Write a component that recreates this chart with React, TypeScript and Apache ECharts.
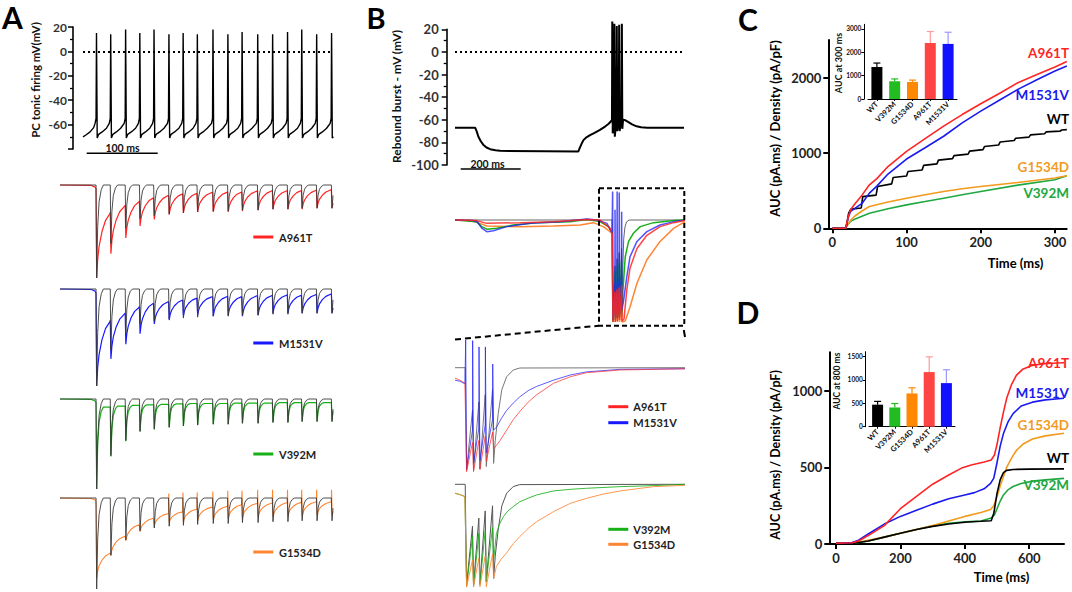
import React, { useEffect, useRef } from "react";
import * as echarts from "echarts";

const FONT = "Lato, 'Liberation Sans', Arial, sans-serif";

// ---------------- Panel A : PC tonic firing (mV) ----------------
const spikeTimesA = [19, 39, 60, 80, 100, 121, 141, 161, 183, 204, 224, 246, 267, 288, 308, 329, 350];
const spikePeaksA = [15, 14, 18, 15, 18, 14, 15, 14, 18, 14, 16, 14, 14, 16, 18, 14, 15];
const tonicStart = [[0, -70], [4, -68.5], [10, -66], [15, -62.5]];
const tonicAfter = [[1, -71], [3, -68], [8, -66], [14, -63]];
const tonicBefore = [[-2, -59], [-0.6, -55]];
const tonicEnd = [[351, -71], [352.5, -70]];

// ---------------- Panel A : currents evoked by the AP train (normalised) ----------------
const wtPeaksA = [-100, -63, -46, -36, -33, -31, -30, -29, -28, -28, -27, -27, -26, -26, -25, -25, -25];
const redPeaksA = [-100, -74, -57, -44, -37, -32, -30, -29, -29, -29, -28, -27, -26, -26, -26, -25, -25];
const redRecA = [-29, -22, -17, -13, -11, -9, -8.5, -8, -7.5, -7, -6.5, -6, -6, -5.5, -5.5, -5, -5];
const bluePeaksA = [-100, -72, -57, -46, -36, -32, -28, -27, -28, -27, -28, -27, -25, -25, -25, -25, -25];
const blueRecA = [-32, -25, -18, -14, -13, -11, -9, -8, -7.5, -7.5, -7, -6.5, -6, -6, -5.5, -5, -5];
const greenPeaksA = [-100, -64, -47, -36, -34, -32, -30, -29, -28, -28, -27, -27, -26, -26, -25, -25, -25];
const greenRecA = [-9, -8, -7, -6.5, -6, -5.5, -5, -5, -5, -4.5, -4.5, -4.5, -4, -4, -4, -4, -4];
const orangePeaksA = [-88, -63, -47, -37, -31, -27, -26, -25, -24, -23, -22, -21, -21, -20, -20, -19, -19];
const orangeRecA = [-60, -42, -29, -22, -17, -15, -12, -10, -9, -7, -6, -5.5, -5, -4.5, -4, -4, -4];
const orangeArtA = [0, 0, 0, 0, 0, 5, 6, 6, 7, 8, 8, 9, 9, 9, 9, 9, 9];
const wtDecay = [[0.6, 1], [2, 0.45], [4, 0.18], [7, 0.05], [10, 0]];
const slowDecay = [[0.6, 1], [2, 0.72], [4, 0.52], [8, 0.3], [13, 0.13], [19.5, 0.02]];
const mutStartA = [[-32, 0], [12, -0.5], [17, -2], [18.6, -4]];
const T_END_A = 352;

// ---------------- Panel B : rebound burst (mV) ----------------
const reboundV = [
  [0, -67], [67, -67], [72, -70], [78, -75], [86, -79], [94, -82], [105, -84.5], [117, -86], [135, -87], [150, -87.5],
  [300, -87.8], [411, -88], [414, -86], [418, -83.5], [423, -80.5], [428, -78], [438, -75.5], [450, -73.5], [465, -71.5],
  [483, -69], [500, -66], [512, -63.5], [519, -61.5], [523, -60],
  [524, 27], [525.5, -72], [529.5, -60], [531, 25], [532.5, -75], [537.5, -60], [539, 23], [540.5, -70], [545.5, -60],
  [547, 24], [548.5, -70], [554.5, -60], [556, 25], [557.5, -68], [560, -60],
  [568, -60.5], [578, -62], [590, -64], [605, -65.8], [620, -66.7], [640, -67], [763, -67],
];

// ---------------- Panel B : currents, burst overlay (normalised) ----------------
const overSpikes = [525, 533, 540, 547, 555];
const blackOverStart = [[0, 0], [523, 0]];
const blackOverTroughs = [-98, -97, -96, -95, -94];
const blackOverPres = [-45, -38, -32, -28];
const blackOverRec = [[559, -45], [562, -18], [566, -7], [571, -2], [580, 0], [766, 0]];
const blueOverStart = [[0, 0], [60, -0.5], [75, -2], [89, -8], [106, -11.5], [128, -10.5], [172, -6.5], [250, -3.3], [350, -1.6], [439, 1], [472, 0], [506, -3.3], [523, -13]];
const blueOverUps = [28, 10, 28, 27, 8];
const blueOverTroughs = [-98, -95, -96, -92, -88];
const blueOverPres = [-60, -58, -55, -52];
const blueOverRec = [[561, -80], [572, -56], [583, -36], [606, -21], [639, -11.4], [683, -4.9], [728, -1.6], [766, 0]];
const redOverStart = [[0, 0], [72, -0.6], [106, -3.3], [217, -2.6], [328, -1.6], [439, 0.6], [483, 0], [517, -8.2], [524, -14]];
const redOverTroughs = [-100, -100, -99, -98, -99];
const redOverPres = [-70, -68, -66, -64];
const redOverRec = [[563, -97], [572, -69], [583, -47], [606, -28], [639, -15], [683, -6.5], [728, -2.6], [766, -0.6]];
const greenOverStart = [[0, 0], [72, -1.6], [89, -6.5], [106, -9], [139, -8], [194, -5], [272, -2.6], [383, -1.6], [439, 0.6], [483, -1.6], [511, -6.5], [523, -12]];
const greenOverTroughs = [-100, -98, -96, -95, -91];
const greenOverPres = [-50, -45, -42, -40];
const greenOverRec = [[559, -70], [567, -36], [578, -21], [594, -13], [617, -6.5], [661, -2.6], [728, -0.6], [766, 0]];
const orangeOverStart = [[0, 0], [50, -0.6], [83, -3.3], [106, -5.9], [217, -6.5], [328, -5.9], [417, -4.9], [461, -2.6], [494, -6.5], [523, -13]];
const orangeOverTroughs = [-100, -100, -100, -100, -100];
const orangeOverPres = [-80, -78, -76, -75];
const orangeOverRec = [[567, -99], [583, -85], [606, -62], [639, -39], [683, -21], [728, -8.2], [766, -1.6]];

// ---------------- Panel B : zoomed bursts (normalised) ----------------
const zoomSpikes = [17.8, 29.4, 40, 50.6, 62.8];
const blackZoomStart = [[0, 0], [17, 0]];
const blackZoomTroughs = [-98, -98, -97, -95, -92];
const blackZoomPres = [-41, -33, -26, -21];
const blackZoomRec = [[67, -70], [72, -44], [78, -21], [86, -8.7], [97, -2.2], [108, -0.3], [383, 0]];
const blueZoomStart = [[0, -12], [8, -13], [16.5, -15.5]];
const blueZoomUps = [26.6, 26, 20, 20, 3.5];
const blueZoomTroughs = [-98, -92, -89, -82, -60];
const blueZoomPres = [-60, -58, -55, -50];
const blueZoomRec = [[69.4, -57], [77, -49], [86, -41], [97, -34], [108, -28], [122, -22], [136, -18], [164, -12], [192, -7], [219, -4], [275, -1.6], [330, -1.3], [383, -1]];
const redZoomStart = [[0, -10], [8, -12], [16.5, -15]];
const redZoomTroughs = [-100, -100, -98, -90, -78];
const redZoomPres = [-72, -70, -66, -62];
const redZoomRec = [[70, -74], [75, -70], [86, -60], [97, -50], [108, -42], [122, -33], [136, -26], [164, -15], [192, -8.7], [219, -4.8], [275, -2.2], [383, -1]];
const greenZoomStart = [[0, -8.8], [8, -10], [16.5, -12]];
const greenZoomTroughs = [-100, -100, -98, -95, -74];
const greenZoomPres = [-51, -48, -45, -42];
const greenZoomRec = [[69, -48], [74, -39], [80.5, -31.6], [88, -26], [97, -21.8], [108, -17], [122, -13.5], [136, -10.4], [164, -6.5], [192, -4.9], [219, -3.9], [275, -2.3], [330, -1.3], [383, 0]];
const orangeZoomStart = [[0, -8.8], [8, -10], [16.5, -12]];
const orangeZoomTroughs = [-100, -100, -100, -100, -92];
const orangeZoomPres = [-74, -72, -70, -68];
const orangeZoomRec = [[69, -80], [77, -73], [86, -67], [97, -58], [108, -51], [122, -43], [136, -36.5], [164, -26.7], [192, -18.6], [219, -13.7], [247, -9.5], [275, -6.5], [330, -2.3], [383, -1]];

// ---------------- Panel C : AUC (pA.ms)/density ----------------
const cRed = [[0, 0], [18, 0], [20, 90], [22, 170], [25, 250], [30, 320], [40, 440], [50, 578], [60, 660], [75, 820], [100, 1022], [125, 1190], [150, 1356], [175, 1510], [200, 1653], [225, 1790], [250, 1933], [275, 2040], [300, 2142], [316, 2215]];
const cBlue = [[0, 0], [18, 0], [20, 80], [22, 160], [25, 230], [30, 262], [40, 330], [50, 467], [60, 560], [75, 720], [100, 920], [125, 1070], [150, 1222], [175, 1400], [200, 1556], [225, 1700], [250, 1844], [275, 1970], [300, 2089], [316, 2156]];
const cWT = [[0, 0], [18, 0], [19, 30], [22, 200], [25, 255], [39, 270], [41, 420], [59, 440], [61, 555], [80, 590], [82, 675], [100, 695], [102, 755], [121, 775], [123, 835], [141, 855], [143, 905], [162, 925], [164, 965], [183, 985], [185, 1025], [203, 1045], [205, 1085], [224, 1105], [226, 1145], [245, 1165], [247, 1195], [265, 1210], [267, 1240], [286, 1255], [288, 1280], [307, 1290], [309, 1305], [316, 1310]];
const cOrange = [[0, 0], [18, 0], [20, 40], [25, 110], [30, 160], [40, 230], [50, 289], [75, 350], [100, 400], [125, 445], [150, 489], [175, 525], [200, 556], [250, 609], [300, 667], [316, 698]];
const cGreen = [[0, 0], [18, 0], [20, 40], [25, 95], [30, 120], [40, 160], [50, 200], [75, 260], [100, 311], [125, 355], [150, 400], [175, 445], [200, 489], [250, 573], [300, 644], [316, 698]];
const insetCats = ["WT", "V392M", "G1534D", "A961T", "M1531V"];
const insetCBars = [1370, 760, 730, 2400, 2360];
const insetCErr = [1540, 860, 810, 2890, 2860];

// ---------------- Panel D : AUC (pA.ms)/density ----------------
const dRed = [[0, 5], [50, 8], [70, 20], [100, 55], [150, 120], [200, 230], [250, 310], [300, 390], [350, 450], [390, 495], [420, 515], [460, 535], [482, 548], [492, 580], [500, 650], [510, 760], [520, 860], [530, 950], [545, 1040], [560, 1100], [580, 1140], [610, 1165], [650, 1177], [708, 1182]];
const dBlue = [[0, 5], [50, 10], [70, 25], [100, 65], [150, 130], [200, 180], [250, 220], [300, 260], [350, 295], [400, 320], [430, 335], [460, 360], [480, 395], [490, 430], [500, 530], [510, 640], [520, 720], [535, 800], [550, 850], [575, 900], [610, 925], [650, 940], [708, 950]];
const dOrange = [[0, 5], [60, 8], [100, 25], [150, 45], [200, 70], [250, 95], [300, 120], [350, 150], [400, 180], [450, 205], [480, 225], [490, 250], [500, 310], [510, 380], [520, 440], [530, 500], [545, 560], [560, 610], [580, 650], [610, 685], [650, 705], [708, 722]];
const dWT = [[0, 5], [60, 6], [100, 20], [150, 45], [200, 70], [250, 95], [300, 115], [350, 130], [400, 142], [450, 148], [482, 152], [490, 200], [500, 330], [510, 420], [520, 465], [530, 480], [550, 486], [600, 488], [708, 490]];
const dGreen = [[0, 5], [60, 6], [100, 20], [150, 45], [200, 70], [250, 95], [300, 118], [350, 135], [400, 145], [450, 150], [482, 170], [492, 190], [500, 230], [510, 280], [520, 320], [535, 355], [550, 375], [575, 395], [610, 410], [650, 418], [708, 428]];
const insetDBars = [470, 410, 710, 1165, 930];
const insetDErr = [540, 495, 830, 1490, 1215];

// colours
const RED = "#ff2424";
const BLUE = "#1818ff";
const GREEN = "#17b017";
const ORANGE = "#ff8533";
const C_RED = "#ff2424";
const C_BLUE = "#1a1aee";
const C_ORANGE = "#f29a1c";
const C_GREEN = "#20a840";
const barColors = ["#000000", "#22bb22", "#ff8800", "#ff4444", "#1111ff"];
const errColors = ["#000000", "#22bb22", "#ff8800", "#ff9a9a", "#9a9aff"];

// ---------------- builders ----------------
function buildTonic() {
  const pts: number[][] = tonicStart.map((p) => [...p]);
  spikeTimesA.forEach((ts, i) => {
    tonicBefore.forEach(([dt, v]) => pts.push([ts + dt, v]));
    pts.push([ts, spikePeaksA[i]]);
    const next = spikeTimesA[i + 1];
    if (next !== undefined) tonicAfter.forEach(([dt, v]) => { if (ts + dt < next - 2) pts.push([ts + dt, v]); });
  });
  tonicEnd.forEach((p) => pts.push([...p]));
  return pts;
}

function buildWT(peaks: number[]) {
  const pts: number[][] = [[-32, 0]];
  spikeTimesA.forEach((tp, i) => {
    pts.push([tp - 0.3, 0]);
    const next = spikeTimesA[i + 1] ?? T_END_A + 20;
    wtDecay.forEach(([dt, f]) => {
      const t = tp + dt;
      if (t < next - 0.3 && t <= T_END_A) pts.push([t, peaks[i] * f]);
    });
  });
  return pts;
}

function buildMut(peaks: number[], rec: number[], decay: number[][], art?: number[]) {
  const pts: number[][] = mutStartA.map((p) => [...p]);
  let level = pts[pts.length - 1][1];
  spikeTimesA.forEach((tp, i) => {
    const next = spikeTimesA[i + 1] ?? T_END_A + 20;
    pts.push([tp - 0.3, level]);
    if (art && art[i] > 0) pts.push([tp, art[i]]);
    decay.forEach(([dt, f]) => {
      const t = tp + dt;
      if (t < next - 0.3 && t <= T_END_A) pts.push([t, rec[i] + (peaks[i] - rec[i]) * f]);
    });
    level = rec[i];
  });
  return pts;
}

function buildBurst(start: number[][], times: number[], troughs: number[], pres: number[], rec: number[][], dt: number, ups?: number[]) {
  const pts: number[][] = start.map((p) => [...p]);
  times.forEach((ts, i) => {
    if (ups) pts.push([ts, ups[i]]);
    pts.push([ts + dt, troughs[i]]);
    if (i < times.length - 1) pts.push([times[i + 1] - 0.3, pres[i]]);
  });
  rec.forEach((p) => pts.push([...p]));
  return pts;
}

// ---------------- axis helpers ----------------
const hiddenAxis = (gridIndex: number, min: number, max: number) => ({
  type: "value", gridIndex, min, max, show: false, splitLine: { show: false },
});

const labelStyle = (size: number) => ({ fontSize: size, fontWeight: "bold", fontFamily: FONT, color: "#222" });
const plain = (v: number) => String(v);

function voltageY(gridIndex: number, min: number, max: number, offset: number, size: number, margin: number, hideMin: boolean) {
  return {
    type: "value", gridIndex, min, max, interval: 20, offset,
    axisLine: { show: true, onZero: false, lineStyle: { color: "#000", width: 1.6 } },
    axisTick: { show: true, length: 5, lineStyle: { color: "#000", width: 1.5 } },
    minorTick: { show: true, splitNumber: 2, length: 3, lineStyle: { color: "#000", width: 1.3 } },
    axisLabel: { ...labelStyle(size), color: "#333", margin, formatter: (v: number) => (hideMin && v === min ? "" : String(v)) },
    splitLine: { show: false }, minorSplitLine: { show: false },
  };
}

function mainX(gridIndex: number, min: number, max: number, ticks: number[]) {
  return {
    type: "value", gridIndex, min, max,
    axisLine: { show: true, onZero: false, lineStyle: { color: "#000", width: 2 } },
    axisTick: { show: true, length: 5, customValues: ticks, lineStyle: { color: "#000", width: 2 } },
    axisLabel: { ...labelStyle(13), margin: 7, customValues: ticks, formatter: plain },
    splitLine: { show: false },
  };
}

function mainY(gridIndex: number, max: number, ticks: number[]) {
  return {
    type: "value", gridIndex, min: 0, max,
    axisLine: { show: true, onZero: false, lineStyle: { color: "#000", width: 2 } },
    axisTick: { show: true, length: 5, customValues: ticks, lineStyle: { color: "#000", width: 2 } },
    axisLabel: { ...labelStyle(13), margin: 7, customValues: ticks, formatter: plain },
    splitLine: { show: false },
  };
}

function insetX(gridIndex: number) {
  return {
    type: "category", gridIndex, data: insetCats,
    axisLine: { show: true, onZero: false, lineStyle: { color: "#000", width: 1 } },
    axisTick: { show: true, alignWithLabel: true, length: 2, lineStyle: { color: "#000" } },
    axisLabel: { ...labelStyle(7.5), color: "#111", rotate: 45, margin: 4, interval: 0 },
    splitLine: { show: false },
  };
}

function insetY(gridIndex: number, max: number, ticks: number[], offset: number) {
  return {
    type: "value", gridIndex, min: 0, max, offset,
    axisLine: { show: true, onZero: false, lineStyle: { color: "#000", width: 1 } },
    axisTick: { show: true, length: 3, customValues: ticks, lineStyle: { color: "#000" } },
    axisLabel: { ...labelStyle(6.5), color: "#111", margin: 3, customValues: ticks, formatter: plain },
    splitLine: { show: false },
  };
}

const line = (xi: number, data: number[][], color: string, width: number, extra: any = {}) => ({
  type: "line", xAxisIndex: xi, yAxisIndex: xi, data, showSymbol: false, symbol: "none",
  clip: false, silent: true, lineStyle: { color, width, ...(extra.lineStyle || {}) },
  emphasis: { disabled: true }, ...extra.rest,
});

function barSeries(xi: number, vals: number[]) {
  return {
    type: "bar", xAxisIndex: xi, yAxisIndex: xi, barWidth: 11, silent: true,
    data: vals.map((v, i) => ({ value: v, itemStyle: { color: barColors[i] } })),
  };
}

function errSeries(xi: number, vals: number[], errs: number[]) {
  return {
    type: "custom", xAxisIndex: xi, yAxisIndex: xi, silent: true, z: 1,
    encode: { x: 0, y: 1 },
    data: vals.map((v, i) => [i, v, errs[i]]),
    renderItem: (params: any, api: any) => {
      const x = api.value(0);
      const p0 = api.coord([x, api.value(1)]);
      const p1 = api.coord([x, api.value(2)]);
      const c = errColors[params.dataIndex];
      return {
        type: "group",
        children: [
          { type: "line", shape: { x1: p0[0], y1: p0[1], x2: p1[0], y2: p1[1] }, style: { stroke: c, lineWidth: 1.2 } },
          { type: "line", shape: { x1: p1[0] - 3.5, y1: p1[1], x2: p1[0] + 3.5, y2: p1[1] }, style: { stroke: c, lineWidth: 1.2 } },
        ],
      };
    },
  };
}

// ---------------- graphic helpers ----------------
const txt = (x: number, y: number, text: string, size: number, o: any = {}) => ({
  type: "text", x, y, rotation: o.rot || 0, z: 100, silent: true,
  style: { text, fontSize: size, fontWeight: "bold", fontFamily: FONT, fill: o.color || "#000", align: o.align || "left", verticalAlign: "middle" },
});
const seg = (x1: number, y1: number, x2: number, y2: number, color: string, w: number, dash?: number[]) => ({
  type: "line", z: 100, silent: true, shape: { x1, y1, x2, y2 },
  style: { stroke: color, lineWidth: w, lineDash: dash || null },
});

function buildOption() {
  const grids = [
    { left: 83, top: 27, width: 250, height: 122 },
    { left: 60, top: 185, width: 273, height: 93 },
    { left: 60, top: 289, width: 273, height: 97 },
    { left: 60, top: 399, width: 273, height: 90 },
    { left: 60, top: 498, width: 273, height: 91 },
    { left: 455, top: 29.3, width: 229, height: 135.7 },
    { left: 455, top: 220, width: 230, height: 102 },
    { left: 455, top: 367.7, width: 230, height: 104 },
    { left: 455, top: 484.3, width: 230, height: 102.4 },
    { left: 828.3, top: 40, width: 238.4, height: 188.3 },
    { left: 868, top: 24.3, width: 89, height: 74.7 },
    { left: 829.3, top: 352.3, width: 234.7, height: 191.7 },
    { left: 869, top: 351.7, width: 86, height: 75 },
  ];

  const xAxis = [
    hiddenAxis(0, 0, 352),
    hiddenAxis(1, -32, 352), hiddenAxis(2, -32, 352), hiddenAxis(3, -32, 352), hiddenAxis(4, -32, 352),
    hiddenAxis(5, 0, 763),
    hiddenAxis(6, 0, 766),
    hiddenAxis(7, 0, 383), hiddenAxis(8, 0, 383),
    mainX(9, -5.4, 315.8, [0, 100, 200, 300]),
    insetX(10),
    mainX(11, -20.8, 708, [0, 200, 400, 600]),
    insetX(12),
  ];
  const yAxis = [
    voltageY(0, -80, 20, 10, 12, 6, true),
    hiddenAxis(1, -100, 0), hiddenAxis(2, -100, 0), hiddenAxis(3, -100, 0), hiddenAxis(4, -100, 0),
    voltageY(5, -100, 20, 8.3, 13, 8, false),
    hiddenAxis(6, -100, 0),
    hiddenAxis(7, -100, 0), hiddenAxis(8, -100, 0),
    mainY(9, 2500, [0, 1000, 2000]),
    insetY(10, 3200, [0, 1000, 2000, 3000], 3.7),
    mainY(11, 1250, [0, 500, 1000]),
    insetY(12, 1600, [0, 500, 1000, 1500], 3.3),
  ];

  const zeroLine = {
    markLine: {
      silent: true, symbol: ["none", "none"], label: { show: false },
      lineStyle: { color: "#000", type: [2, 3], width: 1.8 }, data: [{ yAxis: 0 }],
    },
  };

  const wtA = buildWT(wtPeaksA);
  const gray = "#3a3a3a";
  const series: any[] = [
    line(0, buildTonic(), "#000", 1.4, { rest: zeroLine }),
    line(1, buildMut(redPeaksA, redRecA, slowDecay), RED, 1.2),
    line(1, wtA, gray, 0.9),
    line(2, buildMut(bluePeaksA, blueRecA, slowDecay), BLUE, 1.2),
    line(2, wtA, gray, 0.9),
    line(3, buildMut(greenPeaksA, greenRecA, wtDecay), GREEN, 1.2),
    line(3, wtA, gray, 0.9),
    line(4, buildMut(orangePeaksA, orangeRecA, slowDecay, orangeArtA), ORANGE, 1.1),
    line(4, wtA, gray, 0.9),

    line(5, reboundV, "#000", 2, { rest: zeroLine }),

    line(6, buildBurst(blackOverStart, overSpikes, blackOverTroughs, blackOverPres, blackOverRec, 1), "#666", 1),
    line(6, buildBurst(orangeOverStart, overSpikes, orangeOverTroughs, orangeOverPres, orangeOverRec, 1), ORANGE, 1.5),
    line(6, buildBurst(greenOverStart, overSpikes, greenOverTroughs, greenOverPres, greenOverRec, 1), GREEN, 1.5),
    line(6, buildBurst(blueOverStart, overSpikes, blueOverTroughs, blueOverPres, blueOverRec, 1, blueOverUps), BLUE, 1.5, { lineStyle: { opacity: 0.75 } }),
    line(6, buildBurst(redOverStart, overSpikes, redOverTroughs, redOverPres, redOverRec, 1), RED, 1.5, { lineStyle: { opacity: 0.85 } }),

    line(7, buildBurst(blackZoomStart, zoomSpikes, blackZoomTroughs, blackZoomPres, blackZoomRec, 1.5), "#777", 1),
    line(7, buildBurst(blueZoomStart, zoomSpikes, blueZoomTroughs, blueZoomPres, blueZoomRec, 1.5, blueZoomUps), BLUE, 1, { lineStyle: { opacity: 0.7 } }),
    line(7, buildBurst(redZoomStart, zoomSpikes, redZoomTroughs, redZoomPres, redZoomRec, 1.5), RED, 1, { lineStyle: { opacity: 0.7 } }),

    line(8, buildBurst(blackZoomStart, zoomSpikes, blackZoomTroughs, blackZoomPres, blackZoomRec, 1.5), "#555", 1),
    line(8, buildBurst(greenZoomStart, zoomSpikes, greenZoomTroughs, greenZoomPres, greenZoomRec, 1.5), GREEN, 1, { lineStyle: { opacity: 0.85 } }),
    line(8, buildBurst(orangeZoomStart, zoomSpikes, orangeZoomTroughs, orangeZoomPres, orangeZoomRec, 1.5), ORANGE, 1, { lineStyle: { opacity: 0.85 } }),

    line(9, cGreen, C_GREEN, 1.6),
    line(9, cOrange, C_ORANGE, 1.6),
    line(9, cWT, "#000", 1.6),
    line(9, cBlue, C_BLUE, 1.6),
    line(9, cRed, C_RED, 1.6),
    errSeries(10, insetCBars, insetCErr),
    barSeries(10, insetCBars),

    line(11, dGreen, C_GREEN, 1.6),
    line(11, dOrange, C_ORANGE, 1.6),
    line(11, dWT, "#000", 1.6),
    line(11, dBlue, C_BLUE, 1.6),
    line(11, dRed, C_RED, 1.6),
    errSeries(12, insetDBars, insetDErr),
    barSeries(12, insetDBars),
  ];

  const R = Math.PI / 2;
  const graphic: any[] = [
    txt(12.5, 17, "A", 30, { align: "center" }),
    txt(376, 17, "B", 29, { align: "center" }),
    txt(748, 19, "C", 30, { align: "center" }),
    txt(748, 312, "D", 30, { align: "center" }),

    txt(35, 80, "PC tonic firing mV(mV)", 11.5, { rot: R, align: "center", color: "#111" }),
    txt(396.7, 96.5, "Rebound burst - mV (mV)", 12, { rot: R, align: "center", color: "#111" }),
    txt(775, 128.5, "AUC (pA.ms) / Density (pA/pF)", 13, { rot: R, align: "center" }),
    txt(775, 455, "AUC (pA.ms) / Density (pA/pF)", 12.5, { rot: R, align: "center" }),
    txt(838.3, 63, "AUC at 300 ms", 9, { rot: R, align: "center", color: "#111" }),
    txt(836.7, 381, "AUC at 800 ms", 8.5, { rot: R, align: "center", color: "#111" }),
    txt(1015.5, 263, "Time (ms)", 13, { align: "center" }),
    txt(1001.5, 577, "Time (ms)", 13, { align: "center" }),

    seg(86.7, 153.3, 157.7, 153.3, "#000", 1.5),
    txt(122.5, 147.5, "100 ms", 10.5, { align: "center", color: "#111" }),
    seg(460.7, 169, 520.7, 169, "#000", 1.5),
    txt(487.5, 163.5, "200 ms", 10.5, { align: "center", color: "#111" }),

    { type: "rect", z: 100, silent: true, shape: { x: 599, y: 188.3, width: 85.3, height: 137.4 }, style: { fill: "none", stroke: "#000", lineWidth: 2, lineDash: [5, 3] } },
    seg(455, 339.5, 599, 325.7, "#000", 2, [6, 4]),
    seg(683.8, 330, 685, 337, "#000", 2),

    seg(253.3, 237, 273.3, 237, RED, 3), txt(279, 237, "A961T", 11, { color: "#222" }),
    seg(253.3, 343, 273.3, 343, BLUE, 3), txt(279, 343, "M1531V", 11, { color: "#222" }),
    seg(253.3, 454, 273.3, 454, GREEN, 3), txt(279, 454, "V392M", 11, { color: "#222" }),
    seg(253.3, 552, 273.3, 552, ORANGE, 3), txt(279, 552, "G1534D", 11, { color: "#222" }),

    seg(608.3, 406.7, 628.3, 406.7, RED, 3), txt(633.3, 406.7, "A961T", 11, { color: "#222" }),
    seg(608.3, 422.7, 628.3, 422.7, BLUE, 3), txt(633.3, 422.7, "M1531V", 11, { color: "#222" }),
    seg(608.3, 529.3, 628.3, 529.3, GREEN, 3), txt(633.3, 529.3, "V392M", 11, { color: "#222" }),
    seg(608.3, 544.3, 628.3, 544.3, ORANGE, 3), txt(633.3, 544.3, "G1534D", 11, { color: "#222" }),

    txt(1069, 53, "A961T", 13.5, { align: "right", color: C_RED }),
    txt(1069, 95, "M1531V", 13.5, { align: "right", color: C_BLUE }),
    txt(1069, 119, "WT", 13.5, { align: "right", color: "#000" }),
    txt(1069, 166.7, "G1534D", 13.5, { align: "right", color: C_ORANGE }),
    txt(1069, 192.7, "V392M", 13.5, { align: "right", color: C_GREEN }),

    txt(1069, 362.7, "A961T", 13.5, { align: "right", color: C_RED }),
    txt(1069, 392.7, "M1531V", 13.5, { align: "right", color: C_BLUE }),
    txt(1069, 425, "G1534D", 13.5, { align: "right", color: C_ORANGE }),
    txt(1069, 457.7, "WT", 13.5, { align: "right", color: "#000" }),
    txt(1069, 485, "V392M", 13.5, { align: "right", color: C_GREEN }),
  ];

  return { animation: false, backgroundColor: "#ffffff", grid: grids, xAxis, yAxis, series, graphic };
}

export default function App() {
  const ref = useRef<HTMLDivElement>(null);
  useEffect(() => {
    if (!ref.current) return;
    const chart = echarts.init(ref.current, undefined, { renderer: "svg" });
    chart.setOption(buildOption() as any);
    return () => chart.dispose();
  }, []);
  return (
    <div
      ref={ref}
      style={{ position: "absolute", left: 0, top: 0, width: 1072, height: 592, background: "#fff" }}
    />
  );
}
